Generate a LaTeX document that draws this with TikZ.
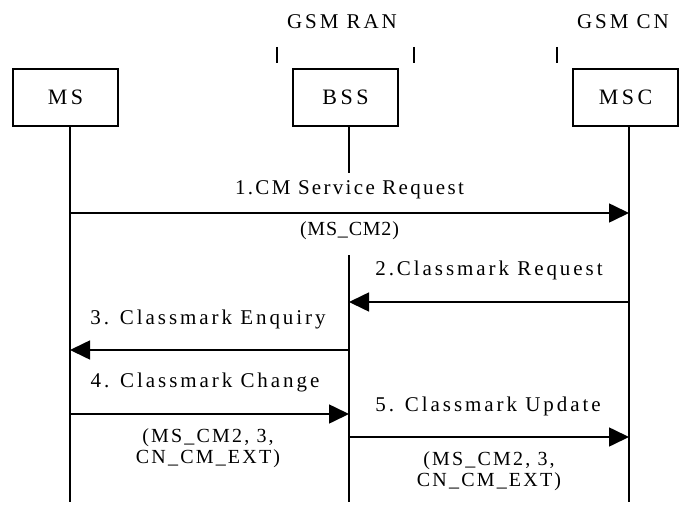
\documentclass[tikz,border=0pt]{standalone}
\usepackage{fontspec}
\setmainfont{Liberation Serif}[LetterSpace=14]
\newfontfamily\firstfont{Liberation Serif}[LetterSpace=11]
\newfontfamily\boxfont{Liberation Serif}[LetterSpace=16]
\newfontfamily\argfont{Liberation Serif}[LetterSpace=4]
\newfontfamily\argwidefont{Liberation Serif}[LetterSpace=11]
\usetikzlibrary{arrows.meta}
\begin{document}
\begin{tikzpicture}[x=1pt,y=-1pt,
  every node/.style={font=\fontsize{21}{21}\selectfont, inner sep=0pt},
  entity/.style={draw, line width=1.6pt, minimum width=105pt, minimum height=57pt,
    font=\boxfont\fontsize{22}{22}\selectfont},
  life/.style={line width=1.6pt},
  tick/.style={line width=1.6pt},
  msg/.style={line width=1.6pt, -{Triangle[length=20pt,width=19pt]}},
  args/.style={align=center, font=\argfont\fontsize{20}{21}\selectfont},
  argsplit/.style={align=center, font=\argwidefont\fontsize{20}{21}\selectfont}
]
\useasboundingbox (0,0) rectangle (684,505);

% domain headings and their boundary ticks
\node (ran) at (342,22) {GSM RAN};
\node (cn)  at (623,22) {GSM CN};
\coordinate (t1a) at (277,47); \coordinate (t1b) at (277,63);
\coordinate (t2a) at (414,47); \coordinate (t2b) at (414,63);
\coordinate (t3a) at (557,47); \coordinate (t3b) at (557,63);
\draw[tick] (t1a) -- (t1b);
\draw[tick] (t2a) -- (t2b);
\draw[tick] (t3a) -- (t3b);

% entities
\node[entity] (ms)  at (65.5,97.5)  {MS};
\node[entity] (bss) at (345.5,97.5) {BSS};
\node[entity] (msc) at (625.5,97.5) {MSC};

% lifelines
\coordinate (msTop)  at (70,126);  \coordinate (msBot)  at (70,502);
\coordinate (bssTop) at (349,126); \coordinate (bssGap) at (349,173);
\coordinate (bssRes) at (349,255); \coordinate (bssBot) at (349,502);
\coordinate (mscTop) at (629,126); \coordinate (mscBot) at (629,502);
\draw[life] (msTop) -- (msBot);
\draw[life] (bssTop) -- (bssGap);
\draw[life] (bssRes) -- (bssBot);
\draw[life] (mscTop) -- (mscBot);

% message end points on the lifelines
\coordinate (m1a) at (70,213);  \coordinate (m1b) at (629,213);
\coordinate (m2a) at (629,302); \coordinate (m2b) at (349,302);
\coordinate (m3a) at (349,350); \coordinate (m3b) at (70,350);
\coordinate (m4a) at (70,414);  \coordinate (m4b) at (349,414);
\coordinate (m5a) at (349,437); \coordinate (m5b) at (629,437);

\draw[msg] (m1a) -- (m1b);
\draw[msg] (m2a) -- (m2b);
\draw[msg] (m3a) -- (m3b);
\draw[msg] (m4a) -- (m4b);
\draw[msg] (m5a) -- (m5b);

% message labels
\node[font=\firstfont\fontsize{21}{21}\selectfont] (l1) at (349.5,190) {1.CM Service Request};
\node[args] (p1)  at (349.5,231) {(MS\_CM2)};
\node (l2)  at (489,270)   {2.Classmark Request};
\node (l3)  at (208,319)   {3. Classmark Enquiry};
\node (l4)  at (205,382)   {4. Classmark Change};
\node[argsplit] (p4) at (208,448) {(MS\_CM2, 3,\\CN\_CM\_EXT)};
\node (l5)  at (488,406)   {5. Classmark Update};
\node[argsplit] (p5) at (489,471) {(MS\_CM2, 3,\\CN\_CM\_EXT)};
\end{tikzpicture}
\end{document}
